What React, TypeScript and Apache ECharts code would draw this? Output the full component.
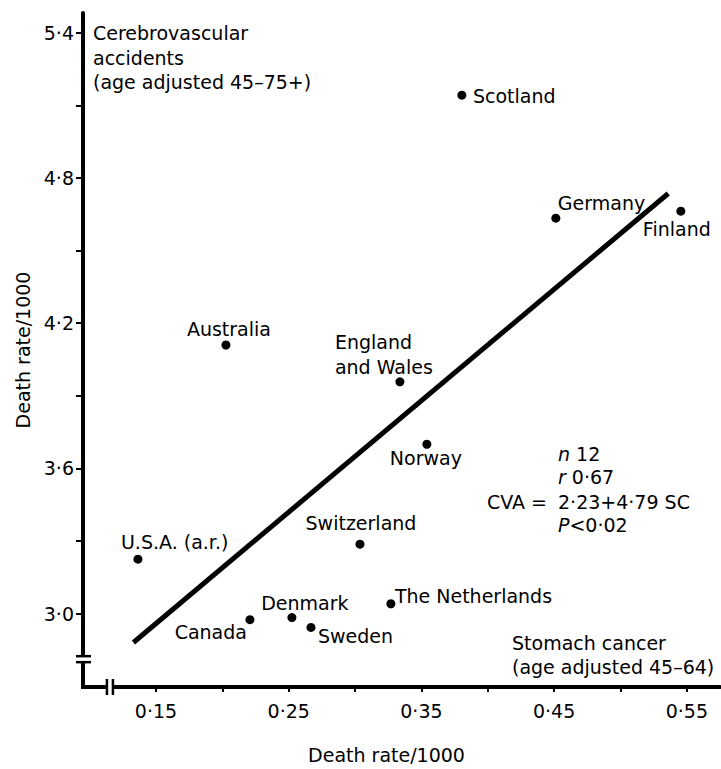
import React, { useEffect, useRef } from 'react';
import * as echarts from 'echarts';

// ---- data ----
const countries = [
  'Scotland',
  'Germany',
  'Finland',
  'Australia',
  'England\nand Wales',
  'Norway',
  'Switzerland',
  'U.S.A. (a.r.)',
  'The Netherlands',
  'Canada',
  'Denmark',
  'Sweden',
];
const stomachCancerRate = [0.3805, 0.4513, 0.5455, 0.2027, 0.3338, 0.3541, 0.3037, 0.1364, 0.327, 0.2208, 0.2524, 0.2668];
const cvaRate = [5.142, 4.634, 4.663, 4.11, 3.958, 3.7, 3.287, 3.225, 3.041, 2.975, 2.984, 2.943];

// regression line end points (as drawn)
const fitStomach = [0.133, 0.536];
const fitCva = [2.881, 4.736];

const xTickValues = [0.15, 0.2, 0.25, 0.3, 0.35, 0.4, 0.45, 0.5, 0.55];
const xLabelValues = [0.15, 0.25, 0.35, 0.45, 0.55];
const yTickValues = [3.0, 3.3, 3.6, 3.9, 4.2, 4.5, 4.8, 5.1, 5.4];
const yLabelValues = [3.0, 3.6, 4.2, 4.8, 5.4];

const xRange = [0.095, 0.575];
const yRange = [2.697, 5.4816];
const yBreakValue = 2.812;
const xBreakValue = 0.1153;

const yTitleLines = ['Cerebrovascular', 'accidents', '(age adjusted 45\u201375+)'];
const xTitleLines = ['Stomach cancer', '(age adjusted 45\u201364)'];
const statN = '12';
const statR = '0\u00b767';
const statEq = '2\u00b723+4\u00b779 SC';
const statP = '<0\u00b702';

// ---- styling ----
const FONT = 'DejaVu Sans';
const FS = 19;
const BLACK = '#000';
const fmt = (v: number, d: number) => v.toFixed(d).replace('.', '\u00b7');

const labelLayout: Record<string, { align: string; offset: number[] }> = {
  'Scotland': { align: 'left', offset: [11, 1] },
  'Germany': { align: 'left', offset: [2, -15] },
  'Finland': { align: 'left', offset: [-38, 18] },
  'Australia': { align: 'center', offset: [3, -16] },
  'England\nand Wales': { align: 'left', offset: [-65, -27] },
  'Norway': { align: 'left', offset: [-37, 14] },
  'Switzerland': { align: 'center', offset: [1, -21] },
  'U.S.A. (a.r.)': { align: 'left', offset: [-17, -17] },
  'The Netherlands': { align: 'left', offset: [4, -8] },
  'Canada': { align: 'right', offset: [-3, 12] },
  'Denmark': { align: 'center', offset: [13, -15] },
  'Sweden': { align: 'left', offset: [7, 9] },
};

export default function App() {
  const ref = useRef<HTMLDivElement>(null);

  useEffect(() => {
    if (!ref.current) return;
    const chart = echarts.init(ref.current, undefined, { renderer: 'svg' });

    const textStyle = { color: BLACK, fontSize: FS, fontFamily: FONT };

    chart.setOption({
      animation: false,
      backgroundColor: '#fff',
      grid: { left: 83, top: 13, right: 1, bottom: 76, containLabel: false },
      xAxis: {
        type: 'value',
        min: xRange[0],
        max: xRange[1],
        splitLine: { show: false },
        axisLine: { show: true, lineStyle: { color: BLACK, width: 4 } },
        axisTick: { show: true, customValues: xTickValues, length: 5, lineStyle: { color: BLACK, width: 2 } },
        axisLabel: {
          customValues: xLabelValues,
          formatter: (v: number) => fmt(v, 2),
          margin: 14,
          ...textStyle,
        },
        name: 'Death rate/1000',
        nameLocation: 'middle',
        nameGap: 58,
        nameTextStyle: { ...textStyle, padding: [0, 30, 0, 0] },
      },
      yAxis: {
        type: 'value',
        min: yRange[0],
        max: yRange[1],
        splitLine: { show: false },
        axisLine: { show: true, lineStyle: { color: BLACK, width: 4 } },
        axisTick: { show: true, customValues: yTickValues, length: 7, lineStyle: { color: BLACK, width: 2 } },
        axisLabel: {
          customValues: yLabelValues,
          formatter: (v: number) => fmt(v, 1),
          margin: 9,
          ...textStyle,
        },
        name: 'Death rate/1000',
        nameLocation: 'middle',
        nameGap: 50,
        nameTextStyle: { ...textStyle },
      },
      series: [
        {
          type: 'line',
          data: fitStomach.map((x, i) => [x, fitCva[i]]),
          showSymbol: false,
          symbol: 'none',
          lineStyle: { color: BLACK, width: 5 },
          z: 2,
        },
        {
          type: 'scatter',
          symbol: 'circle',
          symbolSize: 9,
          itemStyle: { color: BLACK, opacity: 1 },
          z: 3,
          label: {
            show: true,
            position: 'inside',
            formatter: '{b}',
            verticalAlign: 'middle',
            lineHeight: 25,
            ...textStyle,
          },
          data: countries.map((name, i) => ({
            name,
            value: [stomachCancerRate[i], cvaRate[i]],
            label: { align: labelLayout[name].align, offset: labelLayout[name].offset },
          })),
        },
      ],
    });

    const corner = chart.convertToPixel({ gridIndex: 0 }, [xRange[0], yRange[0]]) as number[];
    const yb = (chart.convertToPixel({ gridIndex: 0 }, [xRange[0], yBreakValue]) as number[])[1];
    const xb = (chart.convertToPixel({ gridIndex: 0 }, [xBreakValue, yRange[0]]) as number[])[0];
    const cx = corner[0];
    const cy = corner[1];

    const txt = (x: number, y: number, text: string, align = 'left', lineHeight = 24.5, rich?: any) => ({
      type: 'text',
      x,
      y,
      z: 100,
      style: {
        text,
        fill: BLACK,
        fontSize: FS,
        fontFamily: FONT,
        align,
        verticalAlign: 'middle',
        lineHeight,
        rich,
      },
    });
    const italicRich = {
      i: { fontStyle: 'italic', fontSize: FS, fontFamily: FONT, fill: BLACK },
      n: { fontSize: FS, fontFamily: FONT, fill: BLACK },
    };

    chart.setOption({
      graphic: [
        // corner fill
        { type: 'rect', z: 100, shape: { x: cx - 2, y: cy - 2, width: 4, height: 4 }, style: { fill: BLACK } },
        // y axis break
        { type: 'rect', z: 100, shape: { x: cx - 4, y: yb - 3, width: 8, height: 6 }, style: { fill: '#fff' } },
        { type: 'line', z: 101, shape: { x1: cx - 7, y1: yb - 3, x2: cx + 8, y2: yb - 3 }, style: { stroke: BLACK, lineWidth: 2.5 } },
        { type: 'line', z: 101, shape: { x1: cx - 7, y1: yb + 3, x2: cx + 8, y2: yb + 3 }, style: { stroke: BLACK, lineWidth: 2.5 } },
        // x axis break
        { type: 'rect', z: 100, shape: { x: xb - 3, y: cy - 4, width: 6, height: 8 }, style: { fill: '#fff' } },
        { type: 'line', z: 101, shape: { x1: xb - 3, y1: cy - 8, x2: xb - 3, y2: cy + 8 }, style: { stroke: BLACK, lineWidth: 2.5 } },
        { type: 'line', z: 101, shape: { x1: xb + 3, y1: cy - 8, x2: xb + 3, y2: cy + 8 }, style: { stroke: BLACK, lineWidth: 2.5 } },
        // titles
        txt(93, 33, yTitleLines[0]),
        txt(93, 57.5, yTitleLines[1]),
        txt(93, 82, yTitleLines[2]),
        txt(512, 643, xTitleLines[0]),
        txt(512, 667, xTitleLines[1]),
        // statistics
        txt(558, 454, `{i|n} {n|${statN}}`, 'left', 24, italicRich),
        txt(558, 477, `{i|r} {n|${statR}}`, 'left', 24, italicRich),
        txt(547, 502, 'CVA =', 'right'),
        txt(558, 502, statEq),
        txt(558, 525, `{i|P}{n|${statP}}`, 'left', 24, italicRich),
      ],
    });

    return () => chart.dispose();
  }, []);

  return (
    <div
      ref={ref}
      style={{ position: 'fixed', left: 0, top: 0, width: 721, height: 769, background: '#fff' }}
    />
  );
}
